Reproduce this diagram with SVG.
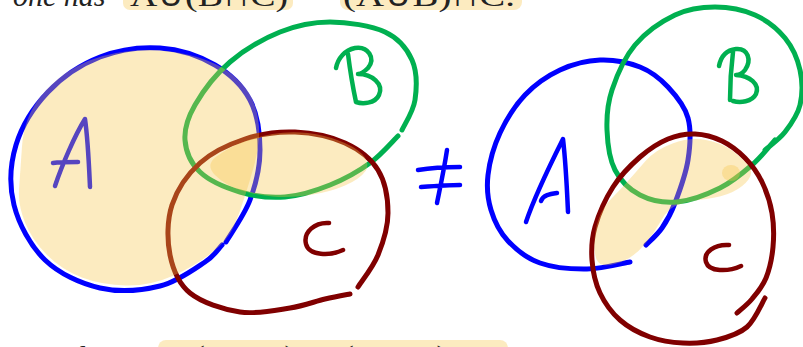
<svg xmlns="http://www.w3.org/2000/svg" width="803" height="347" viewBox="0 0 803 347">
<style>
.s{fill:none;stroke-width:5;stroke-linecap:round;stroke-linejoin:round}
.l{fill:none;stroke-width:4.5;stroke-linecap:round;stroke-linejoin:round}
.b{stroke:#0000ff}
.g{stroke:#00b050}
.r{stroke:#800000}
.hl{fill:#f7c64a;fill-opacity:.35}
.t{font-family:"Liberation Serif",serif;font-size:30px;fill:#222}
.it{font-style:italic}
</style>
<rect width="803" height="347" fill="#ffffff"/>
<g id="text-top">
<rect class="hl" x="123" y="-12" width="170" height="22" rx="7"/>
<rect class="hl" x="340" y="-12" width="182" height="22" rx="8"/>
<text class="t" y="6"><tspan class="it" x="13">one has</tspan><tspan x="130" textLength="158" lengthAdjust="spacingAndGlyphs">A∪(B∩C)</tspan><tspan x="303">=</tspan><tspan x="343" textLength="172" lengthAdjust="spacingAndGlyphs">(A∪B)∩C.</tspan></text>
</g>
<g id="text-bottom">
<rect class="hl" x="158" y="340" width="350" height="24" rx="8"/>
<text class="t" y="366"><tspan class="it" x="40">and</tspan><tspan x="135" textLength="160" lengthAdjust="spacingAndGlyphs">A ∪ (B ∩ C)</tspan><tspan x="310">≠</tspan><tspan x="343" textLength="165" lengthAdjust="spacingAndGlyphs">(A ∪ B) ∩ C</tspan></text>
</g>
<g id="left-A">
<path class="s b" d="M226,242 C230,235 244.3,215.3 250,200 C255.7,184.7 260,166.7 260,150 C260,133.3 257.5,114.2 250,100 C242.5,85.8 230,73.7 215,65 C200,56.3 179.2,49.3 160,48 C140.8,46.7 118.7,49.7 100,57 C81.3,64.3 62,77.3 48,92 C34,106.7 21.7,126.2 16,145 C10.3,163.8 9.2,185.8 14,205 C18.8,224.2 30.7,246.2 45,260 C59.3,273.8 80.8,283.7 100,288 C119.2,292.3 142.5,290.3 160,286 C177.5,281.7 194.7,268.8 205,262 C215.3,255.2 219.2,247.8 222,245"/>
<path class="l b" d="M55,186 C62,165 75,135 85,119 C88,140 89,165 90,187 M53,163 C60,162 70,162 78,162"/>
</g>
<g id="left-B">
<path class="s g" d="M398,136 C393.3,140.5 381.3,154.8 370,163 C358.7,171.2 344.2,179.3 330,185 C315.8,190.7 300,195.8 285,197 C270,198.2 254.2,196.2 240,192 C225.8,187.8 209.2,180.7 200,172 C190.8,163.3 185.8,151.2 185,140 C184.2,128.8 187.5,118 195,105 C202.5,92 215.8,74.2 230,62 C244.2,49.8 263.3,38.7 280,32 C296.7,25.3 312.5,22 330,22 C347.5,22 371.3,25.7 385,32 C398.7,38.3 407,48.7 412,60 C417,71.3 416.7,88.3 415,100 C413.3,111.7 404.2,125 402,130"/>
<path class="l g" d="M336,68 C338,58 345,50 355,48 C368,46 376,58 368,68 C364,72 360,74 358,74 C372,74 384,84 379,95 C375,104 362,104 356,102 M348,54 C350,70 353,88 356,102"/>
</g>
<g id="left-C">
<path class="s r" d="M358,287 C361.3,281.7 373,267.3 378,255 C383,242.7 388,227.2 388,213 C388,198.8 385.2,181.7 378,170 C370.8,158.3 358.8,149.3 345,143 C331.2,136.7 311.7,132.7 295,132 C278.3,131.3 260.8,133.8 245,139 C229.2,144.2 212.2,152 200,163 C187.8,174 177,189.7 172,205 C167,220.3 167,240.3 170,255 C173,269.7 178.3,283.5 190,293 C201.7,302.5 223.3,309.5 240,312 C256.7,314.5 275.8,310.2 290,308 C304.2,305.8 315,301.3 325,299 C335,296.7 345.8,294.8 350,294"/>
<path class="l r" d="M329,223 C315,222 303,232 306,244 C309,256 330,256 343,250"/>
</g>
<g id="left-highlight">
<path class="hl" d="M22,146.5 Q24,118 39.5,98 Q55,78 77.5,66 Q100,54 130,51 Q160,48 189,55 Q218,62 234,76 Q250,90 255,106 Q260,122 259,137 Q258,152 254,166 Q250,180 245,196 Q240,212 234,226 Q228,240 211.5,253 Q195,266 172.5,276 Q150,286 126,285.5 Q102,285 82,277.5 Q62,270 47,255 Q32,240 25,222.5 Q18,205 19,190 Q20,175 22,146.5 Z"/>
<path class="hl" d="M216.5,156.5 Q228,148 241.5,142.5 Q255,137 272.5,134 Q290,131 307.5,133 Q325,135 338.5,140.5 Q354,146 362,154 Q370,162 366,170.5 Q360,179 345,185.5 Q330,192 310,195 Q290,198 272.5,196.5 Q255,195 240,190 Q225,185 215,175 Q205,165 216.5,156.5 Z"/>
</g>
<g id="neq">
<path class="l b" d="M418,170 C430,168 450,167 460,167 M421,187 C435,186 450,185 460,185 M447,150 C444,170 440,188 437,203"/>
</g>
<g id="right-A">
<path class="s b" d="M646,245 C648.7,242.2 657.2,235 662,228 C666.8,221 670.7,214.3 675,203 C679.3,191.7 685.8,174.2 688,160 C690.2,145.8 691.3,130.2 688,118 C684.7,105.8 676,95.5 668,87 C660,78.5 651.3,71.5 640,67 C628.7,62.5 613.3,59.5 600,60 C586.7,60.5 572.5,64.2 560,70 C547.5,75.8 535,84.5 525,95 C515,105.5 506.2,119.7 500,133 C493.8,146.3 489.5,162.2 488,175 C486.5,187.8 487.7,199 491,210 C494.3,221 499.8,232.2 508,241 C516.2,249.8 526.8,258.3 540,263 C553.2,267.7 572,269.2 587,269 C602,268.8 622.8,263.2 630,262"/>
<path class="l b" d="M526,222 C535,195 550,165 563,139 C566,165 567,190 568,212 M541,201 C543,195 550,194 557,193"/>
</g>
<g id="right-B">
<path class="s g" d="M775,140 C771.2,144.2 761.2,157 752,165 C742.8,173 732.5,181.8 720,188 C707.5,194.2 690.3,200.8 677,202 C663.7,203.2 650.3,200.3 640,195 C629.7,189.7 620.5,180.8 615,170 C609.5,159.2 607.5,143.3 607,130 C606.5,116.7 607.3,104.2 612,90 C616.7,75.8 624.5,57.5 635,45 C645.5,32.5 661.7,21.3 675,15 C688.3,8.7 701.7,7 715,7 C728.3,7 743.3,9.8 755,15 C766.7,20.2 777.5,28.8 785,38 C792.5,47.2 797.5,58.8 800,70 C802.5,81.2 802.5,94.7 800,105 C797.5,115.3 790.8,124.5 785,132 C779.2,139.5 768.3,147 765,150"/>
<path class="l g" d="M719,66 C721,56 727,50 736,49 C748,48 752,60 745,70 C742,74 738,75 736,75 C750,76 760,84 756,94 C752,102 740,103 733,101 M733,52 C731,68 730,85 730,100"/>
</g>
<g id="right-C">
<path class="s r" d="M765,298 C762,302.8 755,320 747,327 C739,334 727.7,337.3 717,340 C706.3,342.7 694.2,343.5 683,343 C671.8,342.5 660.5,340.8 650,337 C639.5,333.2 628.3,327.3 620,320 C611.7,312.7 604.7,303 600,293 C595.3,283 592.8,271 592,260 C591.2,249 591.5,239.2 595,227 C598.5,214.8 605.5,198.7 613,187 C620.5,175.3 630.8,165 640,157 C649.2,149 658.8,142.8 668,139 C677.2,135.2 686,133.7 695,134 C704,134.3 713.7,137 722,141 C730.3,145 738.3,151.2 745,158 C751.7,164.8 757.5,172.8 762,182 C766.5,191.2 770.2,202.2 772,213 C773.8,223.8 774,236.2 773,247 C772,257.8 769.5,269.3 766,278 C762.5,286.7 756.8,293.2 752,299 C747.2,304.8 739.5,310.7 737,313"/>
<path class="l r" d="M729,245 C715,244 703,252 706,262 C709,272 728,272 741,266"/>
</g>
<g id="right-highlight">
<path class="hl" d="M594.5,248 Q594,232 598.5,219.5 Q603,207 611.5,198.5 Q620,190 628,181 Q636,172 645.5,161 Q655,150 672.5,143.5 Q690,137 706,140 Q722,143 732,150.5 Q742,158 748,165 Q754,172 748.5,179.5 Q743,187 732.5,192 Q722,197 706,199 Q690,201 679,204.5 Q668,208 661.5,220 Q655,232 645,244 Q635,256 623.5,261 Q612,266 603.5,265 Q595,264 594.5,248 Z"/>
<ellipse class="hl" cx="731" cy="173" rx="9" ry="8"/>
</g>
</svg>
